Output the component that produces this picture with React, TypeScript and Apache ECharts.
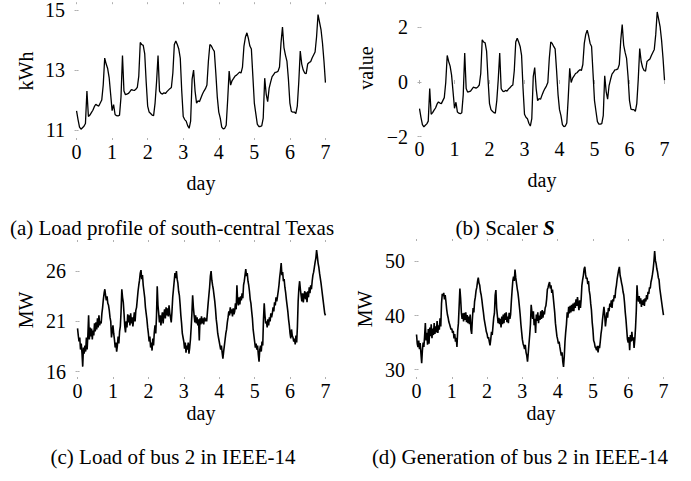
import React, { useEffect, useRef } from "react";
import * as echarts from "echarts";

// (a) Load profile of south-central Texas, hourly kWh (hour 0..168)
const loadTexas: number[] = [
  11.64, 11.35, 11.1, 11.03, 11.08, 11.13, 11.22, 12.3, 11.45, 11.5, 11.58, 11.66,
  11.78, 11.86, 11.82, 11.8, 11.9, 12.0, 12.5, 13.4, 13.2, 13.05, 12.75, 12.2,
  11.65, 11.85, 11.52, 11.48, 11.47, 11.5, 12.1, 13.48, 12.3, 12.18, 12.2, 12.22,
  12.28, 12.35, 12.33, 12.32, 12.36, 12.42, 12.8, 13.92, 13.85, 13.82, 13.55, 12.6,
  11.8, 11.6, 11.55, 11.5, 11.48, 11.9, 12.6, 13.48, 12.3, 12.22, 12.2, 12.24,
  12.22, 12.28, 12.33, 12.38, 12.42, 12.9, 13.85, 13.97, 13.85, 13.7, 13.4, 12.3,
  11.45, 11.35, 11.3, 11.15, 11.06, 11.3, 12.7, 13.0, 12.3, 11.9, 11.97, 11.95,
  12.08, 12.2, 12.3, 12.38, 12.5, 13.3, 13.85, 13.8, 13.7, 13.62, 12.9, 12.1,
  11.6, 11.4, 11.1, 11.04, 11.06, 11.16, 12.0, 12.97, 12.5, 12.65, 12.72, 12.8,
  12.83, 12.88, 12.93, 12.9, 13.1, 13.8, 14.1, 14.24, 14.05, 13.8, 13.7, 12.8,
  11.9, 11.55, 11.2, 11.12, 11.12, 11.14, 11.4, 12.73, 12.2, 11.95, 12.4, 12.6,
  12.78, 12.85, 12.92, 12.93, 12.96, 13.1, 13.9, 14.43, 13.75, 13.5, 13.3, 12.7,
  11.9, 11.62, 11.6, 11.6, 11.55, 11.8, 12.6, 13.63, 13.2, 13.0, 12.9, 12.88,
  13.2, 13.25, 13.28, 13.4, 13.5, 13.6, 14.1, 14.85, 14.6, 14.35, 13.9, 13.3,
  12.58,
];

// (b) Scaler S, hourly (hour 0..168)
const scalerS: number[] = [
  -0.97, -1.29, -1.56, -1.64, -1.58, -1.53, -1.43, -0.24, -1.18, -1.12, -1.03, -0.95,
  -0.81, -0.73, -0.77, -0.79, -0.68, -0.57, -0.02, 0.97, 0.75, 0.58, 0.25, -0.35,
  -0.96, -0.74, -1.1, -1.14, -1.16, -1.12, -0.46, 1.06, -0.24, -0.37, -0.35, -0.33,
  -0.26, -0.19, -0.21, -0.22, -0.18, -0.11, 0.31, 1.54, 1.46, 1.43, 1.13, 0.09,
  -0.79, -1.01, -1.07, -1.12, -1.14, -0.68, 0.09, 1.06, -0.24, -0.33, -0.35, -0.31,
  -0.33, -0.26, -0.21, -0.15, -0.11, 0.42, 1.46, 1.6, 1.46, 1.3, 0.97, -0.24,
  -1.18, -1.29, -1.34, -1.51, -1.61, -1.34, 0.2, 0.53, -0.24, -0.68, -0.61, -0.63,
  -0.48, -0.35, -0.24, -0.15, -0.02, 0.86, 1.46, 1.41, 1.3, 1.21, 0.42, -0.46,
  -1.01, -1.23, -1.56, -1.63, -1.61, -1.5, -0.57, 0.5, -0.02, 0.14, 0.22, 0.31,
  0.34, 0.4, 0.45, 0.42, 0.64, 1.41, 1.74, 1.89, 1.68, 1.41, 1.3, 0.31,
  -0.68, -1.07, -1.45, -1.54, -1.54, -1.52, -1.23, 0.23, -0.35, -0.63, -0.13, 0.09,
  0.29, 0.36, 0.44, 0.45, 0.48, 0.64, 1.52, 2.1, 1.35, 1.08, 0.86, 0.2,
  -0.68, -0.99, -1.01, -1.01, -1.07, -0.79, 0.09, 1.22, 0.75, 0.53, 0.42, 0.4,
  0.75, 0.8, 0.84, 0.97, 1.08, 1.19, 1.74, 2.56, 2.29, 2.01, 1.52, 0.86,
  0.07,
];

// (c) Load of bus 2 in IEEE-14, half-hourly MW (0..336)
const loadBus2: number[] = [
  20.3, 19.6, 19.0, 19.4, 18.2, 18.8, 17.9, 16.5, 18.4, 17.8, 18.6, 18.0,
  19.4, 18.2, 19.6, 21.6, 19.2, 20.4, 19.5, 20.3, 19.2, 20.1, 19.6, 20.8,
  20.0, 20.9, 20.2, 21.3, 20.4, 21.6, 20.6, 21.0, 20.8, 21.8, 22.4, 23.2,
  23.8, 24.2, 23.6, 23.1, 23.5, 22.8, 22.6, 22.1, 21.4, 21.0, 19.4, 20.0,
  20.6, 19.8, 19.2, 18.4, 18.9, 18.0, 18.6, 19.5, 18.8, 20.0, 20.5, 22.0,
  24.2, 23.4, 22.9, 21.8, 20.5, 19.9, 21.0, 20.4, 21.7, 20.9, 21.6, 20.6,
  21.8, 20.8, 21.4, 20.5, 21.2, 21.9, 21.0, 22.1, 22.4, 23.2, 24.0, 24.6,
  25.1, 25.8, 26.1, 25.2, 25.6, 24.6, 24.0, 23.4, 22.4, 21.8, 21.2, 20.4,
  19.8, 19.0, 19.5, 18.4, 18.9, 18.1, 19.3, 18.6, 19.9, 20.6, 19.8, 21.5,
  24.5, 22.6, 21.8, 20.9, 21.6, 20.6, 21.4, 21.9, 20.8, 21.7, 22.2, 21.3,
  22.4, 21.6, 22.3, 21.5, 22.6, 21.8, 21.4, 20.9, 22.0, 23.4, 24.2, 25.0,
  25.8, 25.3, 26.0, 25.2, 24.8, 24.0, 23.6, 22.7, 21.6, 20.8, 19.8, 19.4,
  19.0, 18.3, 18.9, 17.9, 18.6, 18.2, 18.9, 17.8, 18.4, 19.2, 20.4, 21.8,
  23.6, 22.4, 21.6, 20.9, 21.6, 20.8, 21.4, 20.6, 21.2, 19.1, 21.3, 20.7,
  21.5, 20.8, 21.3, 20.7, 21.4, 21.0, 21.3, 21.0, 21.9, 22.8, 23.6, 24.4,
  25.5, 26.0, 25.1, 24.6, 24.2, 23.6, 23.0, 22.2, 21.2, 20.6, 19.8, 19.4,
  19.0, 18.6, 18.2, 18.6, 17.9, 17.3, 18.0, 18.6, 19.2, 19.8, 20.2, 20.9,
  21.4, 22.0, 21.6, 22.4, 21.8, 22.2, 21.5, 22.3, 21.7, 22.0, 22.8, 22.2,
  24.6, 23.0, 22.6, 23.4, 22.7, 23.5, 23.1, 23.8, 23.3, 24.6, 25.0, 25.6,
  26.2, 25.5, 25.8, 25.0, 24.6, 24.0, 23.2, 22.8, 22.0, 21.3, 20.2, 19.6,
  19.0, 18.4, 18.8, 18.2, 18.6, 17.7, 17.0, 18.2, 18.6, 18.0, 19.0, 18.6,
  21.2, 22.8, 21.6, 20.8, 21.0, 20.4, 21.2, 20.6, 21.4, 21.0, 21.8, 21.4,
  21.8, 22.4, 22.0, 22.9, 22.6, 23.4, 23.0, 23.5, 24.0, 24.6, 25.4, 26.0,
  26.8, 25.6, 25.9, 25.0, 25.2, 24.4, 23.9, 23.2, 22.6, 22.0, 21.2, 20.6,
  19.8, 19.3, 20.2, 19.6, 19.4, 19.0, 19.3, 18.7, 19.6, 18.9, 20.5, 23.0,
  24.3, 25.0, 24.2, 23.6, 23.0, 23.8, 22.9, 23.6, 24.0, 23.2, 23.9, 22.9,
  24.0, 23.4, 24.4, 23.8, 24.6, 24.2, 25.0, 25.6, 25.9, 26.4, 26.9, 27.3,
  28.1, 27.5, 26.8, 26.4, 25.8, 25.3, 24.8, 24.2, 23.6, 23.0, 22.4, 21.8,
  21.6,
];

// (d) Generation of bus 2 in IEEE-14, half-hourly MW (0..336)
const genBus2: number[] = [
  36.5, 34.8, 34.2, 35.4, 33.8, 34.9, 33.0, 31.2, 33.6, 35.0, 34.2, 36.2,
  38.6, 35.4, 36.8, 34.6, 37.5, 34.8, 37.8, 36.2, 38.4, 35.8, 37.6, 36.4,
  38.6, 36.6, 38.0, 36.9, 39.0, 36.8, 38.2, 37.4, 39.5, 38.0, 42.2, 44.0,
  43.6, 44.2, 43.0, 43.8, 42.6, 41.2, 40.2, 39.6, 38.8, 38.4, 37.9, 37.4,
  37.6, 36.8, 37.2, 35.8, 36.6, 35.2, 35.9, 34.2, 37.2, 38.6, 41.8, 45.0,
  43.2, 40.6, 39.4, 40.4, 38.9, 40.5, 39.2, 40.6, 38.8, 40.1, 38.6, 39.8,
  38.4, 40.2, 37.4, 36.6, 39.4, 41.4, 40.6, 42.6, 43.4, 44.6, 45.2, 46.3,
  47.0, 46.0, 45.6, 44.4, 43.8, 42.8, 41.6, 40.6, 39.4, 38.6, 37.8, 37.0,
  36.6, 35.8, 36.0, 35.2, 34.5, 35.6, 37.0, 36.4, 38.0, 39.6, 40.4, 43.8,
  44.7, 41.4, 40.0, 38.6, 39.6, 38.4, 39.4, 37.8, 39.8, 38.4, 40.2, 38.6,
  40.4, 39.2, 40.6, 38.8, 39.8, 38.6, 40.5, 39.4, 40.2, 42.6, 44.6, 46.4,
  47.2, 46.4, 48.5, 47.0, 46.0, 45.0, 44.2, 43.0, 41.6, 40.2, 38.4, 37.0,
  35.6, 34.8, 34.4, 33.8, 34.6, 33.2, 32.6, 31.5, 33.0, 34.8, 36.4, 38.4,
  42.0, 40.6, 39.4, 40.8, 38.2, 39.4, 36.8, 40.2, 39.0, 40.6, 38.6, 40.0,
  39.2, 40.8, 39.4, 41.0, 39.6, 40.8, 40.2, 41.4, 41.8, 43.0, 44.8, 45.2,
  45.8, 46.2, 45.0, 45.6, 44.2, 44.8, 43.4, 42.0, 40.6, 38.6, 37.4, 36.2,
  35.6, 34.8, 35.2, 34.2, 33.4, 32.6, 33.2, 31.5, 30.5, 32.4, 35.2, 37.0,
  38.4, 40.6, 39.6, 41.6, 40.4, 41.8, 40.6, 42.0, 40.8, 42.2, 40.8, 42.4,
  41.4, 43.0, 41.8, 43.4, 42.2, 41.0, 42.8, 41.4, 43.0, 45.6, 46.6, 47.4,
  48.6, 49.0, 47.6, 46.8, 47.0, 45.8, 46.4, 44.6, 43.8, 42.2, 41.0, 38.8,
  37.4, 35.4, 35.0, 34.2, 34.0, 33.6, 34.4, 33.2, 34.4, 34.0, 35.2, 36.6,
  37.6, 39.2, 40.4, 41.6, 40.2, 38.0, 39.2, 40.6, 39.6, 41.4, 40.8, 42.2,
  41.6, 42.8, 41.4, 43.0, 42.6, 43.8, 43.2, 44.8, 45.6, 46.8, 47.6, 48.4,
  49.0, 47.4, 46.8, 46.0, 45.4, 44.4, 43.8, 42.4, 40.6, 39.2, 37.4, 35.6,
  35.0, 36.0, 33.6, 36.4, 35.2, 37.0, 35.4, 36.0, 34.0, 35.6, 37.8, 40.8,
  45.6, 43.4, 42.6, 43.6, 42.2, 43.2, 41.6, 42.8, 42.0, 43.0, 41.8, 43.2,
  42.6, 43.8, 43.0, 44.4, 44.0, 45.2, 45.0, 46.2, 46.8, 47.6, 48.6, 50.0,
  51.9, 50.2, 49.6, 48.6, 48.0, 47.0, 46.6, 45.0, 44.0, 43.0, 42.0, 41.0,
  40.1,
];

const dayTicks = [0, 1, 2, 3, 4, 5, 6, 7];
const yTicksA = [11, 13, 15];
const yTicksB = [-2, 0, 2];
const yTicksC = [16, 21, 26];
const yTicksD = [30, 40, 50];

const captions = [
  "(a) Load profile of south-central Texas",
  "(b) Scaler ",
  "(c) Load of bus 2 in IEEE-14",
  "(d) Generation of bus 2 in IEEE-14",
];
const yNames = ["kWh", "value", "MW", "MW"];
const xName = "day";

const FONT = "'Liberation Serif', 'Times New Roman', serif";

export default function App() {
  const ref = useRef<HTMLDivElement>(null);
  useEffect(() => {
    if (!ref.current) return;
    const chart = echarts.init(ref.current, null, { renderer: "svg" });

    const grids = [
      { left: 73, top: 1, width: 256, height: 139 },
      { left: 416, top: 1, width: 252, height: 136 },
      { left: 74, top: 240, width: 255, height: 139 },
      { left: 413, top: 239, width: 254, height: 140 },
    ];
    const yRanges = [
      [10.67, 15.26],
      [-2.01, 2.96],
      [15.27, 29.1],
      [28.28, 54.15],
    ];
    const yTicks = [yTicksA, yTicksB, yTicksC, yTicksD];
    const seriesData = [
      loadTexas.map((v, i) => [i / 24, v]),
      scalerS.map((v, i) => [i / 24, v]),
      loadBus2.map((v, i) => [i / 48, v]),
      genBus2.map((v, i) => [i / 48, v]),
    ];

    const tickStyle = { color: "#b0b0b0", width: 1 };
    const xAxes: any[] = [];
    const yAxes: any[] = [];
    grids.forEach((_, i) => {
      const base = {
        gridIndex: i,
        type: "value",
        splitLine: { show: false },
        axisLine: { show: false },
      };
      xAxes.push({
        ...base,
        position: "bottom",
        min: -0.1,
        max: 7.1,
        axisTick: { show: true, inside: true, length: 2, lineStyle: tickStyle, customValues: dayTicks },
        axisLabel: {
          show: true,
          customValues: dayTicks,
          fontFamily: FONT,
          fontSize: 20,
          color: "#000",
          margin: 2,
        },
      });
      xAxes.push({
        ...base,
        position: "top",
        min: -0.1,
        max: 7.1,
        axisTick: { show: true, inside: true, length: 2, lineStyle: tickStyle, customValues: dayTicks },
        axisLabel: { show: false },
      });
      yAxes.push({
        ...base,
        position: "left",
        min: yRanges[i][0],
        max: yRanges[i][1],
        axisTick: { show: true, inside: true, length: 2, lineStyle: tickStyle, customValues: yTicks[i] },
        axisLabel: {
          show: true,
          customValues: yTicks[i],
          fontFamily: FONT,
          fontSize: 20,
          color: "#000",
          margin: 8,
          formatter: (v: number) => (v < 0 ? "\u2212" + Math.abs(v) : String(v)),
        },
      });
      yAxes.push({
        ...base,
        position: "right",
        min: yRanges[i][0],
        max: yRanges[i][1],
        axisTick: { show: true, inside: true, length: 2, lineStyle: tickStyle, customValues: yTicks[i] },
        axisLabel: { show: false },
      });
    });

    const series = seriesData.map((d, i) => ({
      type: "line",
      xAxisIndex: i * 2,
      yAxisIndex: i * 2,
      data: d,
      showSymbol: false,
      symbol: "none",
      lineStyle: { color: "#000", width: i < 2 ? 1.3 : 1.6 },
      silent: true,
    }));

    const txt = (x: number, y: number, text: string, size: number, rot = 0) => ({
      type: "text",
      x,
      y,
      rotation: rot,
      style: {
        text,
        fontFamily: FONT,
        fontSize: size,
        fill: "#000",
        align: "center",
        verticalAlign: "middle",
      },
    });

    const graphic: any[] = [
      txt(26, 71, yNames[0], 20, Math.PI / 2),
      txt(366, 68, yNames[1], 20, Math.PI / 2),
      txt(26, 310, yNames[2], 20, Math.PI / 2),
      txt(365, 309, yNames[3], 20, Math.PI / 2),
      txt(201, 183, xName, 20),
      txt(542, 180, xName, 20),
      txt(201, 413, xName, 20),
      txt(541, 413, xName, 20),
      txt(172, 228, captions[0], 21),
      {
        type: "text",
        x: 505,
        y: 228,
        style: {
          text: "{n|" + captions[1] + "}{s|S}",
          align: "center",
          verticalAlign: "middle",
          rich: {
            n: { fontFamily: FONT, fontSize: 21, fill: "#000" },
            s: { fontFamily: FONT, fontSize: 21, fill: "#000", fontStyle: "italic", fontWeight: "bold" },
          },
        },
      },
      txt(173, 457, captions[2], 21),
      txt(520, 457, captions[3], 21),
    ];

    chart.setOption({
      animation: false,
      backgroundColor: "#fff",
      grid: grids,
      xAxis: xAxes,
      yAxis: yAxes,
      series,
      graphic,
    });
    return () => chart.dispose();
  }, []);

  return (
    <div
      ref={ref}
      style={{ position: "fixed", left: 0, top: 0, width: 691, height: 481 }}
    />
  );
}
